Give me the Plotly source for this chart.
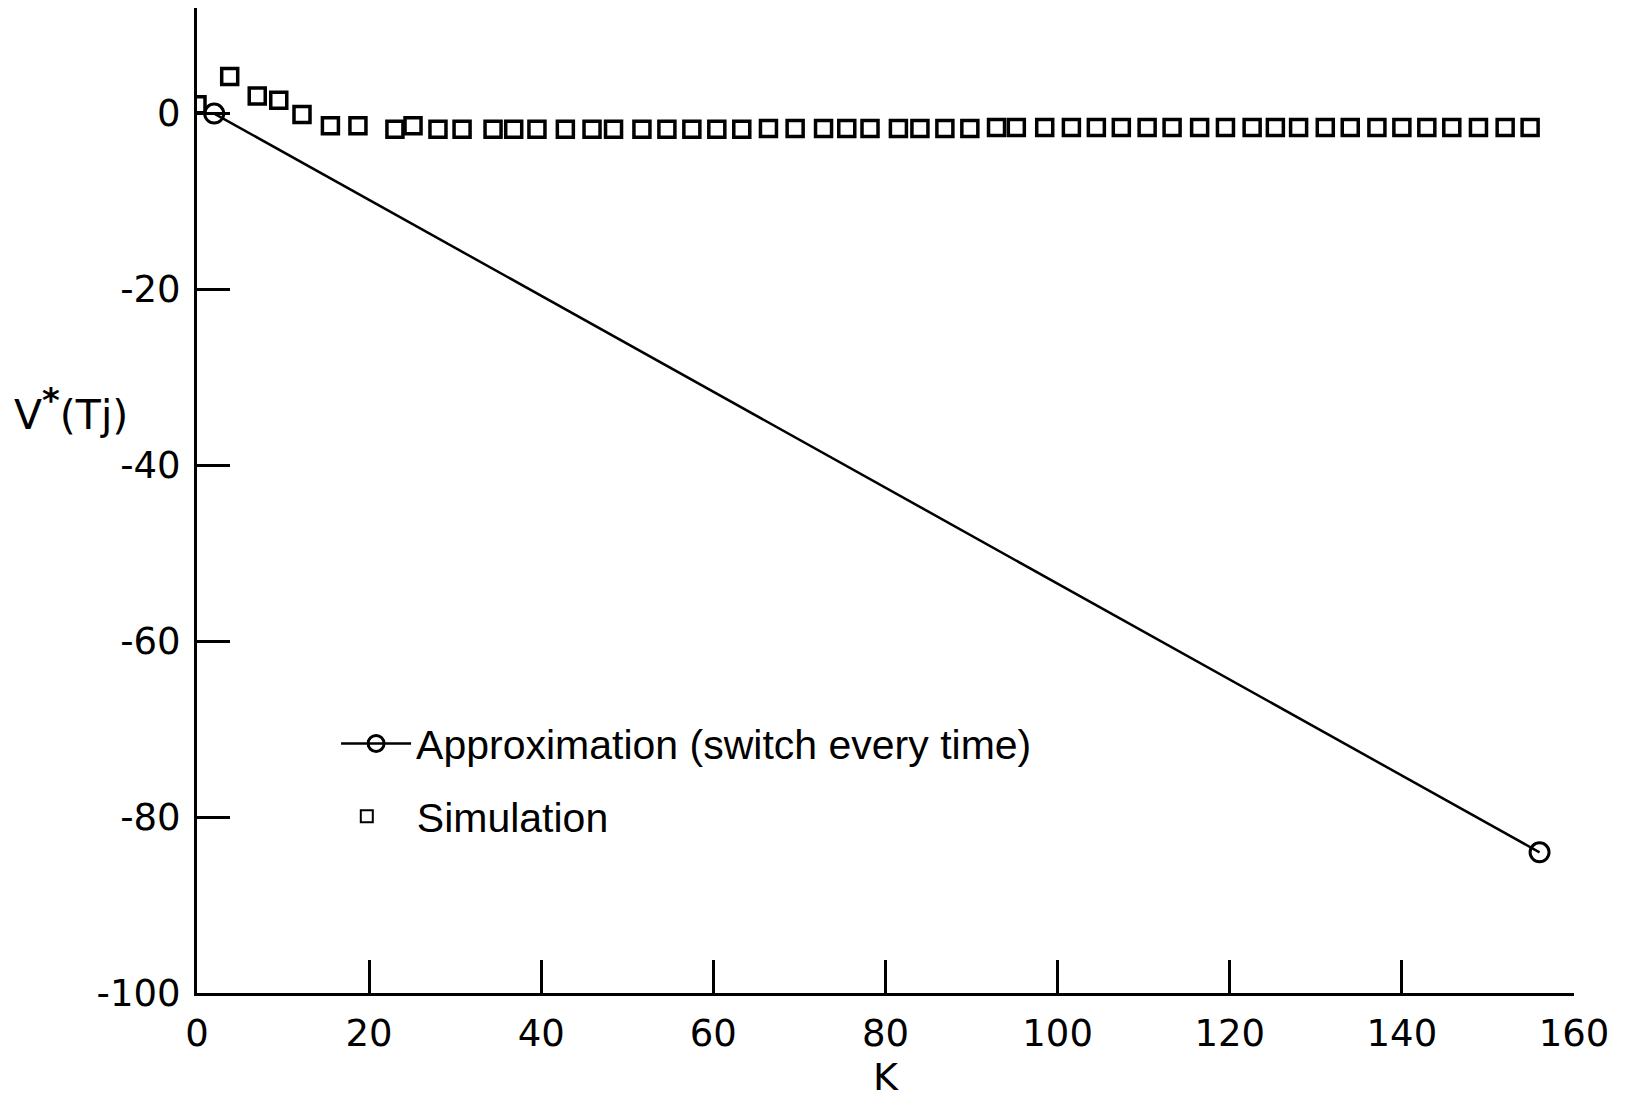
import plotly.graph_objects as go

# Approximation (switch every time): straight line between two computed points
k_approx = [2, 156]
v_approx = [0, -84]

# Simulation results V*(Tj) versus K
k_sim = [0, 3.8, 7.0, 9.5, 12.2, 15.5, 18.7, 23.0, 25.1, 28.0, 30.8, 34.4, 36.8,
         39.5, 42.8, 45.9, 48.4, 51.7, 54.6, 57.5, 60.4, 63.3, 66.4, 69.5, 72.8,
         75.5, 78.2, 81.5, 84.0, 86.9, 89.8, 92.9, 95.2, 98.5, 101.6, 104.5,
         107.4, 110.4, 113.3, 116.5, 119.5, 122.6, 125.3, 128.0, 131.1, 134.0,
         137.1, 140.0, 142.9, 145.8, 148.9, 152.0, 154.9]
v_sim = [1.0, 4.2, 2.0, 1.5, -0.1, -1.4, -1.4, -1.8, -1.4, -1.8, -1.8, -1.8, -1.8,
         -1.8, -1.8, -1.8, -1.8, -1.8, -1.8, -1.8, -1.8, -1.8, -1.7, -1.7, -1.7,
         -1.7, -1.7, -1.7, -1.7, -1.7, -1.7, -1.6, -1.6, -1.6, -1.6, -1.6,
         -1.6, -1.6, -1.6, -1.6, -1.6, -1.6, -1.6, -1.6, -1.6, -1.6,
         -1.6, -1.6, -1.6, -1.6, -1.6, -1.6, -1.6]

x_tick_vals = [0, 20, 40, 60, 80, 100, 120, 140, 160]
x_tick_text = ["0", "20", "40", "60", "80", "100", "120", "140", "160"]
y_tick_vals = [0, -20, -40, -60, -80, -100]
y_tick_text = ["0", "-20", "-40", "-60", "-80", "-100"]

TICK_FONT = "DejaVu Sans, Verdana, sans-serif"
TEXT_FONT = "Liberation Sans, Arial, sans-serif"

fig = go.Figure()

fig.add_trace(go.Scatter(
    x=k_approx, y=v_approx, mode="lines+markers",
    name="Approximation (switch every time)",
    legend="legend",
    line=dict(color="black", width=2.5),
    marker=dict(symbol="circle-open", size=19, color="black",
                line=dict(width=3, color="black")),
))

fig.add_trace(go.Scatter(
    x=k_sim, y=v_sim, mode="markers",
    name="Simulation",
    legend="legend2",
    marker=dict(symbol="square-open", size=16, color="black",
                line=dict(width=3.5, color="black")),
))

axis_common = dict(
    showline=True, linecolor="black", linewidth=3,
    ticks="inside", ticklen=33, tickwidth=2.5, tickcolor="black",
    showgrid=False, zeroline=False,
    tickfont=dict(family=TICK_FONT, size=37, color="black"),
)

fig.update_xaxes(range=[0, 160], tickvals=x_tick_vals, ticktext=x_tick_text,
                 ticklabelstandoff=6, **axis_common)
fig.update_yaxes(range=[-100, 12], tickvals=y_tick_vals, ticktext=y_tick_text,
                 ticklabelstandoff=6, **axis_common)

# axis titles
fig.add_annotation(text="K", xref="x", x=80, yref="paper", y=0, yshift=-84,
                   yanchor="middle", showarrow=False, borderpad=0,
                   font=dict(family=TICK_FONT, size=38, color="black"))
fig.add_annotation(text="V<sup><span style='font-size:34px'><b>*</b></span></sup>(Tj)",
                   xref="paper", x=0, xanchor="right",
                   xshift=-67, yref="y", y=-33.7, yanchor="middle",
                   showarrow=False,
                   font=dict(family=TICK_FONT, size=41, color="black"))

legend_common = dict(
    xanchor="left", yanchor="top",
    bgcolor="rgba(0,0,0,0)", borderwidth=0,
    font=dict(family=TEXT_FONT, size=41, color="black"),
)

fig.update_layout(
    width=1627, height=1104,
    margin=dict(l=197, r=53, t=8, b=111),
    paper_bgcolor="white", plot_bgcolor="white",
    showlegend=True,
    legend=dict(x=0.101, y=0.287, itemwidth=70, itemsizing="trace",
                **legend_common),
    legend2=dict(x=0.087, y=0.213, itemwidth=90, itemsizing="constant",
                 **legend_common),
)

fig.write_html("out.html")
